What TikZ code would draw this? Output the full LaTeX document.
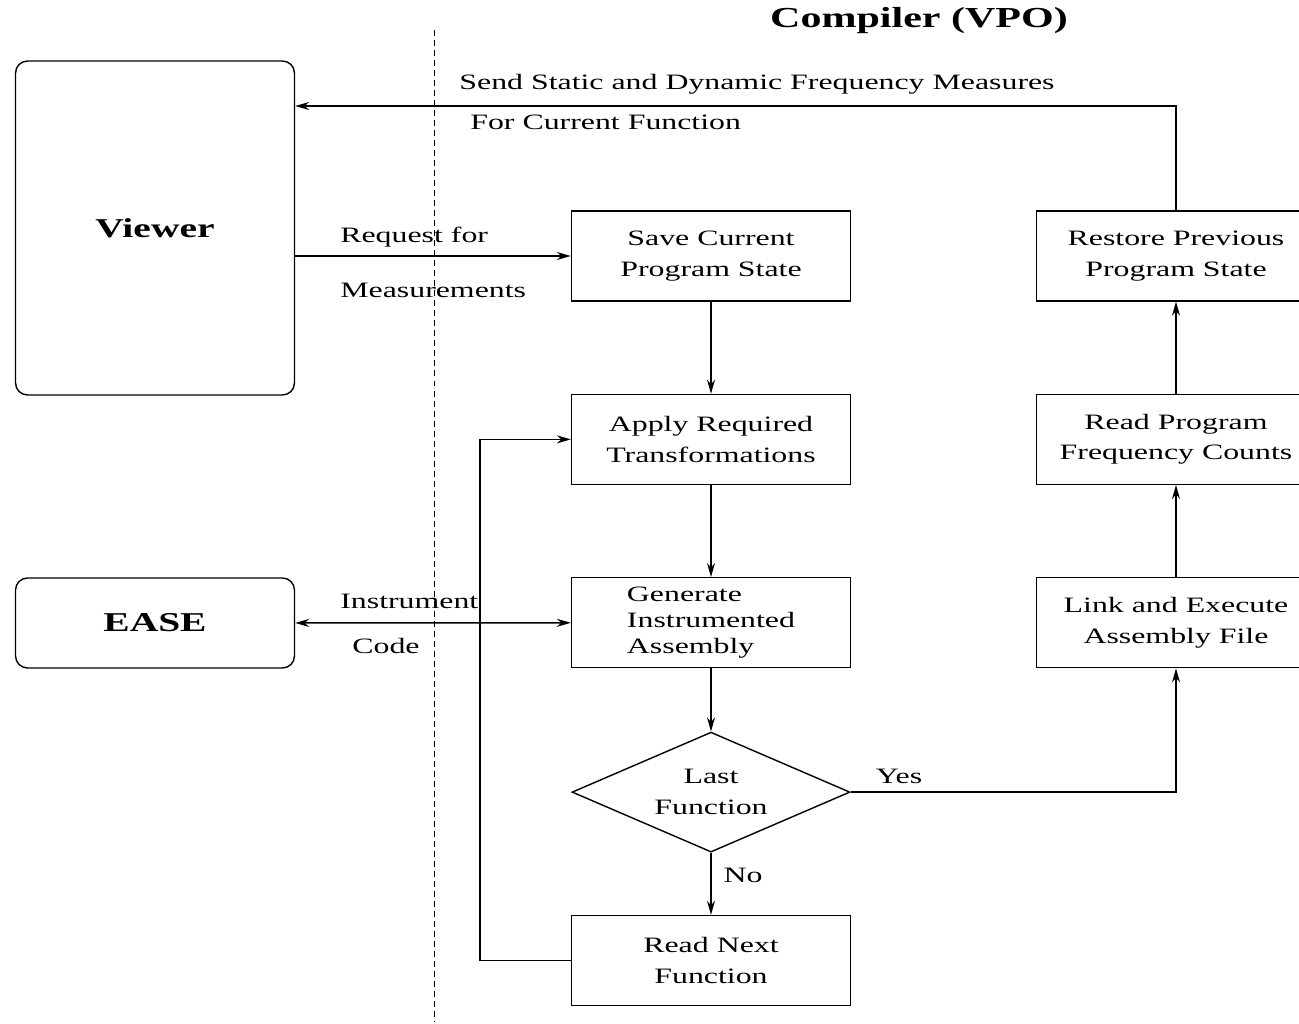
\documentclass[tikz,border=0pt]{standalone}
\usepackage{fontspec}
\setmainfont[FakeStretch=1.45]{Liberation Serif}
\usetikzlibrary{shapes.geometric,arrows.meta,positioning}
\tikzset{
    block/.style={rectangle, draw, minimum width=5.58cm, minimum height=1.8cm, inner sep=2pt, align=center, font=\fontsize{12.5}{17.5}\selectfont, line width=0.8pt},
    tool/.style={rectangle, draw, rounded corners=0.24cm, minimum width=5.58cm, font=\fontsize{15.5}{18}\selectfont\bfseries, line width=0.8pt},
    decision/.style={diamond, draw, aspect=2.3, minimum width=5.56cm, minimum height=2.4cm, inner sep=0pt, align=center, font=\fontsize{12.5}{17.5}\selectfont, line width=0.8pt},
    line/.style={draw, -{Stealth[length=0.28cm,width=0.16cm]}, line width=0.8pt},
    note/.style={font=\fontsize{12.5}{15}\selectfont, inner sep=0pt}
}

\begin{document}
\begin{tikzpicture}[x=0.02cm, y=-0.02cm]
    \useasboundingbox (0,0) rectangle (1299,1024);
    \clip (0,0) rectangle (1299,1024);

    % left side
    \node [tool, minimum height=6.68cm] (viewer) at (155,228) {Viewer};
    \node [tool, minimum height=1.8cm] (ease) at (155,623) {EASE};
    \draw [dash pattern=on 3.4pt off 2.3pt, line width=0.5pt] (434,30) -- (434,1022);

    % compiler
    \node [font=\fontsize{16.5}{18}\selectfont\bfseries] (title) at (919,21) {Compiler (VPO)};
    \node [block] (save) at (711,256) {Save Current\\Program State};
    \node [block, below=1.84cm of save] (apply) {Apply Required\\Transformations};
    \node [block, below=1.84cm of apply, align=left, font=\fontsize{12.5}{15}\selectfont] (generate) {Generate\\Instrumented\\Assembly};
    \node [decision, below=1.26cm of generate] (last) {Last\\Function};
    \node [block, below=1.24cm of last] (readnext) {Read Next\\Function};

    \node [block] (restore) at (1176,256) {Restore Previous\\Program State};
    \node [block, below=1.84cm of restore] (readprog) {Read Program\\Frequency Counts};
    \node [block, below=1.84cm of readprog] (link) {Link and Execute\\Assembly File};

    % labels
    \node [note] (sendlbl) at (757,84) {Send Static and Dynamic Frequency Measures};
    \node [note, anchor=west] (forlbl) at (470,122) {For Current Function};
    \node [note, anchor=west] (reqlbl) at (340,237) {Request for};
    \node [note, anchor=west] (measlbl) at (340,290) {Measurements};
    \node [note, anchor=west] (instlbl) at (340,601) {Instrument};
    \node [note, anchor=west] (codelbl) at (352,646) {Code};
    \node [note] (yeslbl) at (899,776) {Yes};
    \node [note] (nolbl) at (743,875) {No};

    \coordinate (topy) at (0,106);

    \path [line] (restore.north) |- (viewer.east |- topy);
    \path [line] (viewer.east |- save.west) -- (save.west);
    \path [line] (save) -- (apply);
    \path [line] (apply) -- (generate);
    \path [line] (generate) -- (last);
    \path [line] (last) -- (readnext);
    \path [line] (readnext.west) -- ++(-91,0) |- (apply.west);
    \path [line] (last.east) -| (link.south);
    \path [line] (link) -- (readprog);
    \path [line] (readprog) -- (restore);
    \path [line, {Stealth[length=0.28cm,width=0.16cm]}-{Stealth[length=0.28cm,width=0.16cm]}] (ease) -- (generate);
\end{tikzpicture}
\end{document}
